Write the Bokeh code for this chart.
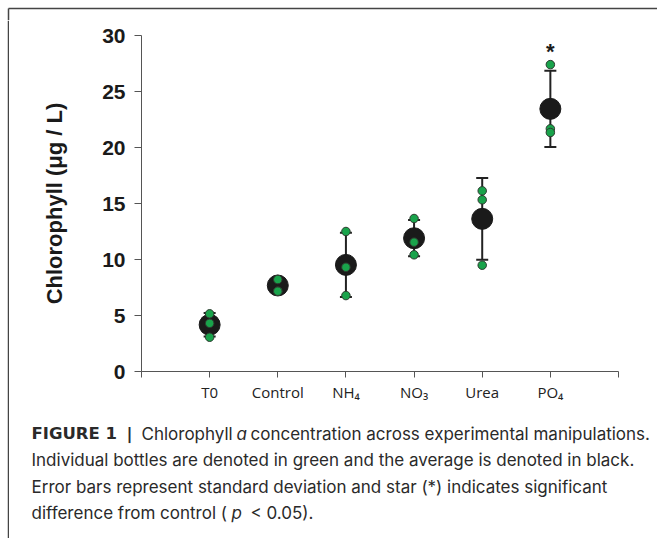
from bokeh.plotting import figure
from bokeh.models import (ColumnDataSource, Whisker, TeeHead, FixedTicker, Label,
                          Range1d)
from bokeh.layouts import column, row
from bokeh.core.properties import value
from bokeh.embed import file_html
from bokeh.resources import INLINE

# ---------------- data ----------------
categories = ["T0", "Control", "NH\u2084", "NO\u2083", "Urea", "PO\u2084"]
means = [4.17, 7.68, 9.52, 11.90, 13.63, 23.45]
sds = [1.05, 0.45, 2.86, 1.62, 3.65, 3.40]
bottles = [
    [5.15, 4.30, 3.06],
    [8.21, 7.17, 7.17],
    [12.50, 9.31, 6.78],
    [13.66, 11.55, 10.42],
    [16.13, 15.33, 9.49],
    [27.40, 21.67, 21.34],
]
star_category = 6
star_y = 28.6
y_ticks = [0, 5, 10, 15, 20, 25, 30]

caption_bold = ["FIGURE 1", "|"]
caption_lines = [
    ["Chlorophyll", "a", "concentration across experimental manipulations."],
    ["Individual bottles are denoted in green and the average is denoted in black."],
    ["Error bars represent standard deviation and star (*) indicates significant"],
    ["difference from control (", "p", "< 0.05)."],
]

# ---------------- layout ----------------
W, H = 657, 538
TOP = 20            # height of the strip holding the outer top rule
LEFT = 9            # width of the strip holding the outer left rule
MAIN_H = 410 - TOP
CAP_H = H - 410
XMAX, YMAX = 7, 30
INK = "#1a1a1a"
AX = "#555555"
RULE_COL = "#444444"


def blank(width, height, xr, yr):
    f = figure(width=width, height=height, output_backend="svg", title=None,
               toolbar_location=None, x_range=xr, y_range=yr,
               x_axis_location=None, y_axis_location=None,
               min_border=0, frame_align=False)
    f.outline_line_color = None
    f.grid.visible = False
    f.background_fill_color = "white"
    f.border_fill_color = "white"
    return f


# outer rules (top strip includes the corner)
top_rule = blank(W, TOP, Range1d(0, W), Range1d(TOP, 0))
top_rule.line([8, W], [8, 8], line_color=RULE_COL, line_width=1.5)
top_rule.line([8, 8], [8, TOP], line_color=RULE_COL, line_width=1.5)
left_rule = blank(LEFT, H - TOP, Range1d(0, LEFT), Range1d(H - TOP, 0))
left_rule.line([8, 8], [0, H - TOP], line_color=RULE_COL, line_width=1.5)

# main chart
xs = list(range(1, len(categories) + 1))
p = figure(width=W - LEFT, height=MAIN_H, output_backend="svg", title=None,
           toolbar_location=None, frame_align=False,
           x_range=Range1d(0, XMAX), y_range=Range1d(0, YMAX),
           min_border_left=141 - LEFT, min_border_right=39,
           min_border_top=35 - TOP, min_border_bottom=410 - 371)
p.outline_line_color = None
p.grid.visible = False
p.background_fill_color = "white"
p.border_fill_color = "white"

p.yaxis.ticker = FixedTicker(ticks=y_ticks)
p.yaxis.major_tick_out = 7
p.yaxis.major_tick_in = 0
p.yaxis.minor_tick_line_color = None
p.yaxis.axis_line_color = AX
p.yaxis.major_tick_line_color = AX
p.yaxis.major_label_text_font = "Liberation Sans"
p.yaxis.major_label_text_font_style = "bold"
p.yaxis.major_label_text_font_size = "21px"
p.yaxis.major_label_text_color = INK
p.yaxis.major_label_standoff = 9
p.yaxis.axis_label = "Chlorophyll (\u03bcg / L)"
p.yaxis.axis_label_text_font = "Liberation Sans"
p.yaxis.axis_label_text_font_style = "bold"
p.yaxis.axis_label_text_font_size = "22px"
p.yaxis.axis_label_text_color = INK
p.yaxis.axis_label_standoff = 32

p.xaxis.ticker = FixedTicker(ticks=list(range(0, XMAX + 1)))
overrides = {0: "", XMAX: ""}
for i, c in zip(xs, categories):
    overrides[i] = c
p.xaxis.major_label_overrides = overrides
p.xaxis.major_tick_out = 6
p.xaxis.major_tick_in = 0
p.xaxis.minor_tick_line_color = None
p.xaxis.axis_line_color = AX
p.xaxis.major_tick_line_color = AX
p.xaxis.major_label_text_font = "Open Sans"
p.xaxis.major_label_text_font_size = "15px"
p.xaxis.major_label_text_color = "#222222"
p.xaxis.major_label_standoff = 4

src = ColumnDataSource(dict(
    x=xs, mean=means,
    upper=[m + s for m, s in zip(means, sds)],
    lower=[m - s for m, s in zip(means, sds)],
))
wh = Whisker(source=src, base="x", upper="upper", lower="lower",
             line_color="#222222", line_width=2,
             upper_head=TeeHead(size=12, line_width=2, line_color="#222222"),
             lower_head=TeeHead(size=12, line_width=2, line_color="#222222"))
wh.level = "underlay"
p.add_layout(wh)

p.scatter("x", "mean", source=src, size=21, fill_color=INK, line_color=INK)

bx, by = [], []
for i, vals in zip(xs, bottles):
    for v in vals:
        bx.append(i)
        by.append(v)
p.scatter(bx, by, size=8.5, fill_color="#19a34b", line_color="#2d3a2f",
          line_width=1)

p.add_layout(Label(x=star_category, y=star_y, text="*", text_align="center",
                   text_baseline="middle", text_font="Liberation Sans",
                   text_font_style="bold", text_font_size="22px",
                   text_color=INK))

# caption panel (coordinates in pixels of the panel)
cap = blank(W - LEFT, CAP_H, Range1d(0, W - LEFT), Range1d(CAP_H, 0))
top0 = 410
line_y = [433 - top0, 459.5 - top0, 486 - top0, 512.5 - top0]
bold_x = [31, 126]
run_x = [[141, 236, 250], [31], [31], [31, 231, 250]]
run_style = [["normal", "italic", "normal"], ["normal"], ["normal"],
             ["normal", "italic", "normal"]]
CAP_FONT = value("Inter")
CAP_COL = "#2a2a2a"

cap.text(x=[v - LEFT for v in bold_x], y=[line_y[0]] * 2, text=caption_bold,
         text_font=value("DejaVu Sans"), text_font_size=value("16.5px"),
         text_font_style="bold", text_baseline="middle", text_align="left",
         text_color=CAP_COL)
for li, (runs, xsr, sts) in enumerate(zip(caption_lines, run_x, run_style)):
    for txt, xp, st in zip(runs, xsr, sts):
        cap.text(x=[xp - LEFT], y=[line_y[li]], text=[txt], text_font=CAP_FONT,
                 text_font_size=value("17px"),
                 text_font_style=st, text_baseline="middle",
                 text_align="left", text_color=CAP_COL)

layout = column(top_rule, row(left_rule, column(p, cap)))
open("out.html", "w").write(file_html(layout, INLINE))
